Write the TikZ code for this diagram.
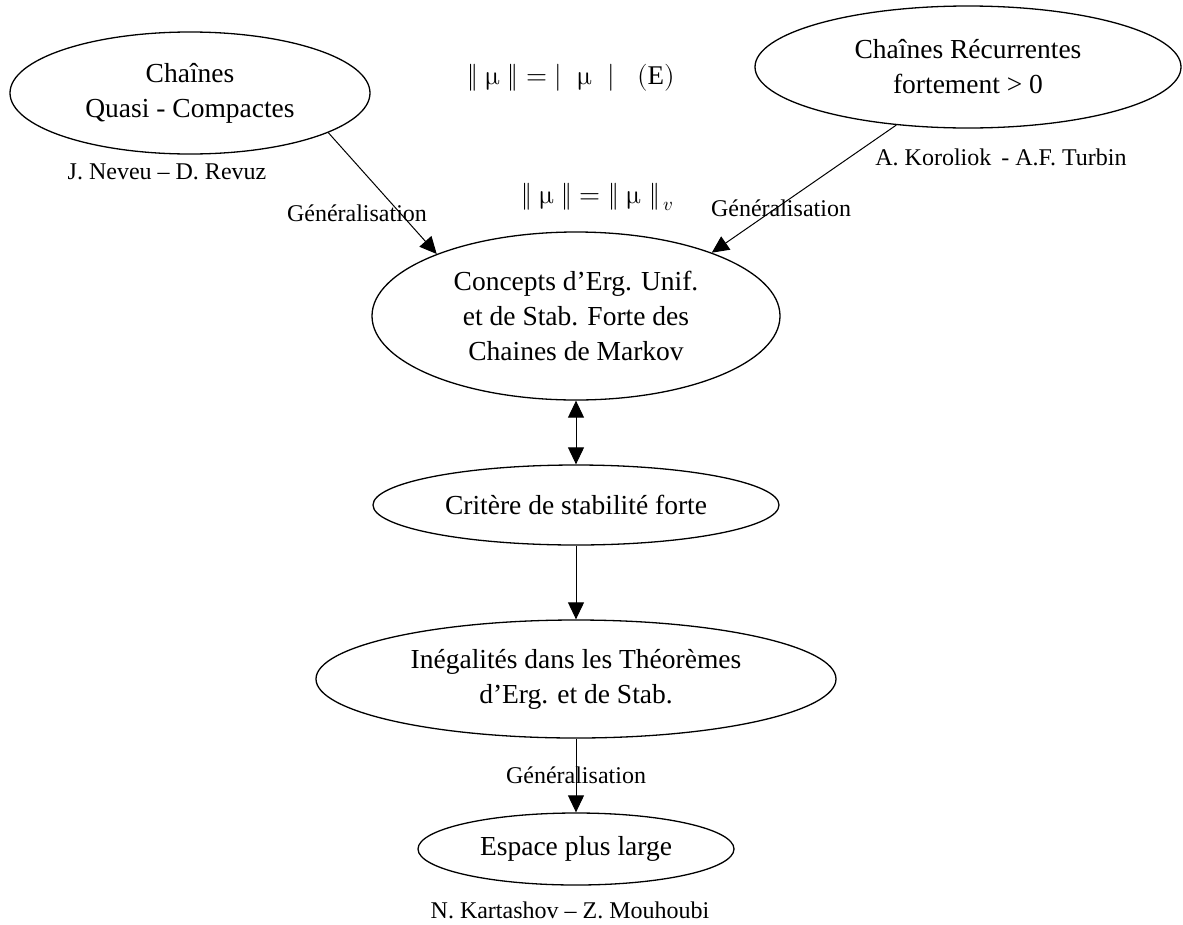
\documentclass[tikz,border=0pt]{standalone}
\usepackage{amsmath,amssymb}
\usepackage{fontspec}
\usepackage{unicode-math}
\setmainfont{Liberation Serif}
\usepackage{tikz}
\usetikzlibrary{shapes.geometric,arrows.meta}
\usepackage{xcolor}

\begin{document}
\begin{tikzpicture}[x=1pt,y=-1pt,
  bulle/.style={ellipse,draw,line width=1.3pt,inner sep=0pt,align=center,font=\fontsize{27.5}{35}\selectfont},
  nom/.style={font=\fontsize{24}{28}\selectfont},
  fleche/.style={line width=1pt,-{Triangle[length=17pt,width=16pt]}},
  doublefleche/.style={line width=1pt,{Triangle[length=17pt,width=16pt]}-{Triangle[length=17pt,width=16pt]}}]
\useasboundingbox (0,0) rectangle (1183,924);

% Ellipses
\node[bulle,minimum width=360pt,minimum height=122pt] (quasi) at (190,93) {Chaînes\\Quasi - Compactes};
\node[bulle,minimum width=426pt,minimum height=122pt] (recur) at (968,67) {Chaînes Récurrentes\\fortement > 0};
\node[bulle,minimum width=408pt,minimum height=168pt] (concept) at (576,316) {Concepts d’Erg. Unif.\\et de Stab. Forte des\\Chaines de Markov};
\node[bulle,minimum width=406pt,minimum height=80pt] (critere) at (576,505) {Critère de stabilité forte};
\node[bulle,minimum width=520pt,minimum height=118pt] (inegal) at (576,679) {Inégalités dans les Théorèmes\\d’Erg. et de Stab.};
\node[bulle,minimum width=316pt,minimum height=72pt] (espace) at (576,849) {Espace plus large};

% Auteurs
\node[nom] (neveu) at (167,172) {J. Neveu -- D. Revuz};
\node[nom] (koroliok) at (1001,157) {A. Koroliok\, - A.F. Turbin};
\node[nom] (kartashov) at (570,910) {N. Kartashov -- Z. Mouhoubi};

% Normes
\node[font=\fontsize{27}{30}\selectfont] (norme1) at (571,78) {$\lVert\;\upmu\;\rVert = |\;\;\upmu\;\;|\;\;\;(\mathrm{E})$};
\node[font=\fontsize{27}{30}\selectfont] (norme2) at (597,197) {$\lVert\;\upmu\;\rVert = \lVert\;\upmu\;\rVert_{\,v}$};

% Fleches
\draw[fleche] (quasi.-16.5) -- (concept.156.6);
\draw[fleche] (recur.-141.3) -- (concept.25.3);
\draw[doublefleche] (concept.south) -- (critere.north);
\draw[fleche] (critere.south) -- (inegal.north);
\draw[fleche] (inegal.south) -- (espace.north);

\node[nom] (gen1) at (357,213) {Généralisation};
\node[nom] (gen2) at (781,208) {Généralisation};
\node[nom] (gen3) at (576,775) {Généralisation};
\end{tikzpicture}
\end{document}
